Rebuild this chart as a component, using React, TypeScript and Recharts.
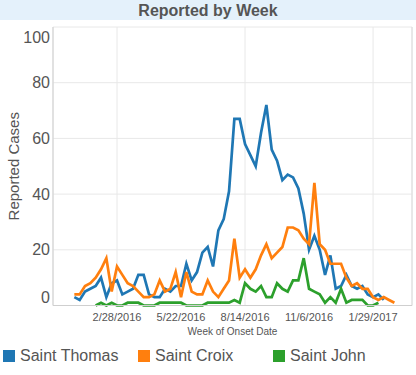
import React from "react";
import {
  LineChart,
  Line,
  XAxis,
  YAxis,
  CartesianGrid,
  ReferenceLine,
} from "recharts";

// weekly counts, first week = 1/3/2016
const saintThomas = [
  3, 2, 5, 6, 7, 10, 3, 8, 9, 4, 5, 6, 11, 11, 4, 3, 3, 6, 5, 7, 7, 15, 9, 12, 19, 21, 14, 27, 31, 41,
  67, 67, 58, 54, 50, 62, 72, 56, 52, 45, 47, 46, 42, 33, 20, 25, 20, 11, 18, 6, 7, 11, 7, 6, 7, 4, 3,
  4, 2,
];
const saintCroix = [
  4, 4, 7, 8, 10, 13, 17, 5, 14, 11, 8, 7, 5, 3, 3, 4, 9, 5, 6, 12, 3, 12, 5, 4, 4, 9, 5, 3, 6, 9, 24,
  10, 13, 10, 13, 18, 22, 17, 19, 21, 28, 28, 27, 24, 22, 44, 22, 20, 15, 15, 15, 10, 7, 8, 6, 6, 3, 2,
  3, 2, 1,
];
const saintJohn = [
  null, null, null, null, 0, 1, 0, 1, 0, 0, 1, 1, 1, 0, 0, 0, 1, 1, 1, 1, 1, 0, 0, 0, 0, 1, 1, 1, 1, 1,
  2, 1, 8, 6, 5, 7, 3, 3, 8, 6, 5, 9, 9, 17, 6, 5, 4, 1, 3, 1, 6, 1, 2, 2, 2, 0, 0, 1,
];

const tickWeeks = [8, 20, 32, 44, 56];
const tickLabels = ["2/28/2016", "5/22/2016", "8/14/2016", "11/6/2016", "1/29/2017"];
const yTicks = [0, 20, 40, 60, 80, 100];

const series = [
  { key: "thomas", name: "Saint Thomas", color: "#1f77b4" },
  { key: "croix", name: "Saint Croix", color: "#ff7f0e" },
  { key: "john", name: "Saint John", color: "#2ca02c" },
];

const data = saintCroix.map((_, i) => ({
  week: i,
  thomas: saintThomas[i] ?? null,
  croix: saintCroix[i] ?? null,
  john: saintJohn[i] ?? null,
}));

const FONT = "'Liberation Sans', Arial, sans-serif";
const TEXT = "#555";

const YTick = ({ x, y, payload }: any) => {
  // keep end labels inside the pane, like the original
  const yy = Math.min(Math.max(y, 37), 297);
  return (
    <text x={x} y={yy} dy="0.35em" textAnchor="end" fontSize={16} fill={TEXT} fontFamily={FONT}>
      {payload.value}
    </text>
  );
};

export default function App() {
  return (
    <div style={{ position: "relative", width: 416, height: 375, background: "#fff", fontFamily: FONT }}>
      <style>{`body{margin:0}`}</style>
      <div
        style={{
          position: "absolute",
          left: 0,
          top: 0,
          width: 416,
          height: 20,
          background: "#e4f1fb",
          textAlign: "center",
          fontWeight: "bold",
          fontSize: 16,
          lineHeight: "21px",
          color: TEXT,
        }}
      >
        Reported by Week
      </div>
      <LineChart
        width={416}
        height={375}
        data={data}
        margin={{ top: 27, right: 4, left: 0, bottom: 39.5 }}
      >
        <CartesianGrid stroke="#e8e8e8" />
        <XAxis
          type="number"
          dataKey="week"
          domain={[-4, 63.3]}
          ticks={tickWeeks}
          tickFormatter={(v: number) => tickLabels[tickWeeks.indexOf(v)]}
          tick={{ fontSize: 11, fill: TEXT, fontFamily: FONT }}
          tickLine={false}
          tickSize={0}
          tickMargin={8}
          axisLine={{ stroke: "#cfcfcf" }}
          height={30}
          allowDataOverflow
          label={{
            value: "Week of Onset Date",
            position: "insideBottom",
            offset: 1,
            fontSize: 10,
            fill: TEXT,
            fontFamily: FONT,
          }}
        />
        <YAxis
          domain={[0, 100]}
          ticks={yTicks}
          width={53}
          tick={<YTick />}
          tickLine={false}
          tickSize={0}
          tickMargin={3}
          axisLine={{ stroke: "#cfcfcf" }}
          label={{
            value: "Reported Cases",
            angle: -90,
            position: "insideLeft",
            offset: 14,
            style: { textAnchor: "middle" },
            fontSize: 15,
            fill: TEXT,
            fontFamily: FONT,
          }}
        />
        <ReferenceLine x={63.3} stroke="#dcdcdc" />
        {series.map((s) => (
          <Line
            key={s.key}
            dataKey={s.key}
            name={s.name}
            stroke={s.color}
            strokeWidth={2.7}
            dot={false}
            isAnimationActive={false}
          />
        ))}
      </LineChart>
      <div
        style={{
          position: "absolute",
          left: 3,
          top: 348,
          display: "flex",
          fontSize: 16,
          color: TEXT,
          lineHeight: "16px",
        }}
      >
        {series.map((s) => (
          <div key={s.key} style={{ width: 135, display: "flex", alignItems: "center" }}>
            <span
              style={{
                display: "inline-block",
                width: 12,
                height: 12,
                background: s.color,
                marginRight: 5,
              }}
            />
            {s.name}
          </div>
        ))}
      </div>
    </div>
  );
}
